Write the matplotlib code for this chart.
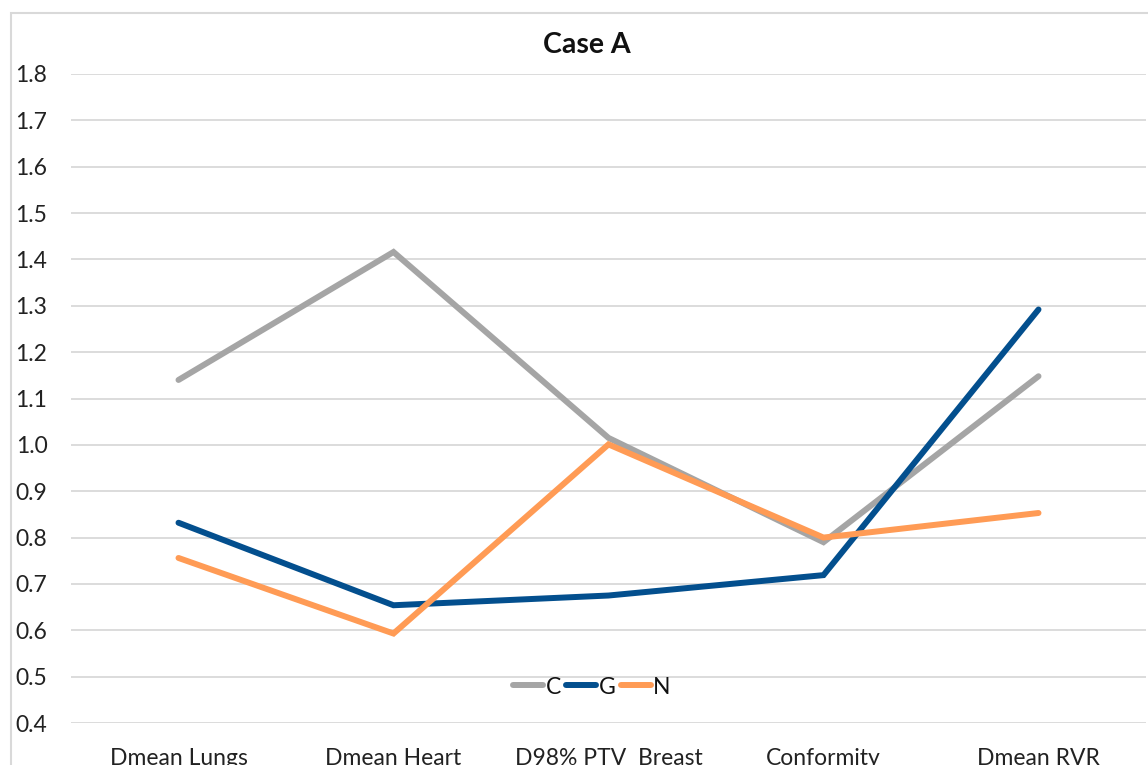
import matplotlib
matplotlib.use("Agg")
import matplotlib.pyplot as plt
from matplotlib.patches import Rectangle

categories = ["Dmean Lungs", "Dmean Heart", "D98% PTV  Breast", "Conformity", "Dmean RVR"]
series_names = ["C", "G", "N"]
C_values = [1.140, 1.416, 1.015, 0.790, 1.148]
G_values = [0.832, 0.654, 0.675, 0.719, 1.292]
N_values = [0.756, 0.593, 1.001, 0.800, 0.853]
y_ticks = [0.4, 0.5, 0.6, 0.7, 0.8, 0.9, 1.0, 1.1, 1.2, 1.3, 1.4, 1.5, 1.6, 1.7, 1.8]

colors = {"C": "#a5a5a5", "G": "#034f8e", "N": "#ff9b55"}

plt.rcParams['font.family'] = ['Lato', 'DejaVu Sans']

W, H = 1148, 765
fig = plt.figure(figsize=(W / 100, H / 100), dpi=100)
fig.patch.set_facecolor("white")

# chart outline (extends past the cropped right/bottom edges)
fig.patches.append(Rectangle((11 / W, -0.1), 1.2, 1 - 13 / H + 0.1, transform=fig.transFigure,
                             fill=False, edgecolor="#d9d9d9", linewidth=1.5, zorder=0))

ax = fig.add_axes([71 / W, 1 - 723 / H, (1146 - 71) / W, (723 - 74) / H])
ax.set_facecolor("none")

x = list(range(len(categories)))
for name, vals in zip(series_names, [C_values, G_values, N_values]):
    ax.plot(x, vals, color=colors[name], linewidth=4.3, solid_capstyle="round",
            solid_joinstyle="miter", label=name, zorder=3)

ax.set_xlim(-0.5, len(categories) - 0.5)
ax.set_ylim(0.4, 1.8)
ax.set_yticks(y_ticks)
ax.set_yticklabels([f"{v:.1f}" for v in y_ticks])
ax.set_xticks(x)
ax.set_xticklabels(categories)
ax.grid(axis="y", color="#d9d9d9", linewidth=1.3, zorder=0)
ax.set_axisbelow(True)
for s in ax.spines.values():
    s.set_visible(False)
ax.tick_params(axis="y", length=0, pad=17, labelsize=16.5, labelcolor="#222222")
ax.tick_params(axis="x", length=0, pad=18, labelsize=16.5, labelcolor="#222222")

fig.text(587 / W, 1 - 45 / H, "Case A", ha="center", va="center", fontsize=20.5,
         fontweight="bold", color="#111111")

leg = ax.legend(loc="center", bbox_to_anchor=(592 / W, 1 - 687 / H),
                bbox_transform=fig.transFigure, ncol=3, frameon=False,
                fontsize=16.5, handlelength=1.3, handletextpad=0.1, columnspacing=0.25,
                borderpad=0)
for t in leg.get_texts():
    t.set_color("#111111")

fig.savefig("out.png", dpi=100, facecolor="white")
